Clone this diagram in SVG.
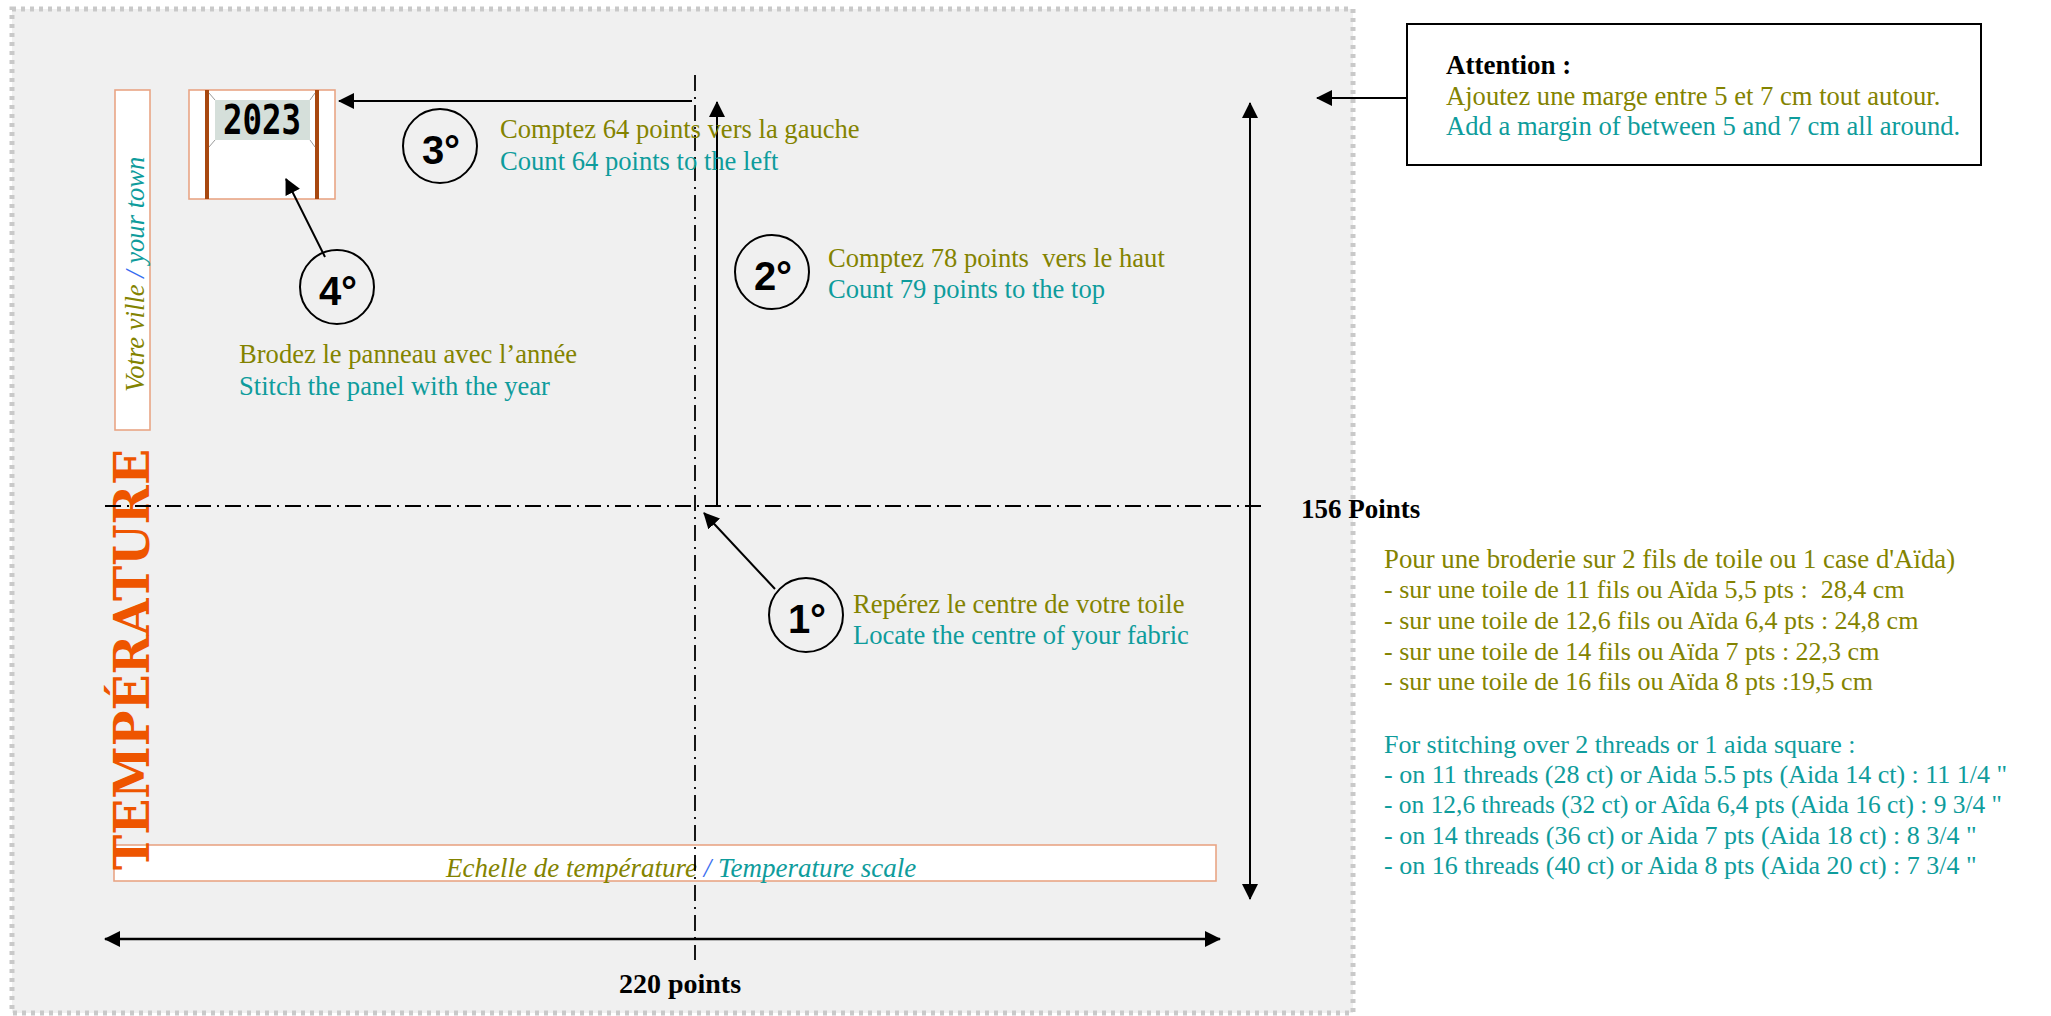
<svg xmlns="http://www.w3.org/2000/svg" width="2051" height="1016" viewBox="0 0 2051 1016">
<style>
text{font-family:"Liberation Serif","Times New Roman",serif;font-size:26.6px;white-space:pre}
.fr{fill:#838300}
.en{fill:#0E9C9C}
.sl{fill:#3A6EF0}
.b{font-weight:bold;fill:#000}
.s{font-size:26px}
.num{font-family:"Liberation Sans",Arial,sans-serif;font-weight:bold;font-size:40px;fill:#000;text-anchor:middle}
.circ{fill:none;stroke:#000;stroke-width:2}
.box{fill:#fff;stroke:#E9A585;stroke-width:1.6}
.dash{stroke:#000;stroke-width:1.8;stroke-dasharray:16 6 2 6;fill:none}
.arr{stroke:#000;stroke-width:2;fill:none;marker-end:url(#ah)}
.arr2{stroke:#000;stroke-width:2;fill:none;marker-start:url(#ah);marker-end:url(#ah)}
.big{font-family:"DejaVu Serif","Liberation Serif",serif;font-weight:bold;font-size:48px;fill:#EE5500}
</style>
<defs>
<marker id="ah" viewBox="0 0 16 16" refX="15" refY="8" markerWidth="16" markerHeight="16" markerUnits="userSpaceOnUse" orient="auto-start-reverse">
<path d="M0,0 L16,8 L0,16 z" fill="#000"/>
</marker>
</defs>
<rect width="2051" height="1016" fill="#fff"/>
<rect id="fabric" x="12" y="9" width="1341" height="1004" fill="#F0F0F0" stroke="#C9C9C9" stroke-width="5" stroke-dasharray="4 5"/>

<g id="town">
<rect class="box" x="115" y="90" width="35" height="340"/>
<text transform="translate(144,392) rotate(-90)" font-style="italic"><tspan class="fr">Votre ville </tspan><tspan class="sl">/</tspan><tspan class="en"> your town</tspan></text>
</g>

<g id="scale">
<rect class="box" x="114" y="845" width="1102" height="36"/>
<text x="446" y="877" font-style="italic" style="font-size:27px"><tspan class="fr">Echelle de température </tspan><tspan class="sl">/</tspan><tspan class="en"> Temperature scale</tspan></text>
</g>

<g id="temperature-title">
<text class="big" transform="translate(149,870) rotate(-90)" textLength="421" lengthAdjust="spacingAndGlyphs">TEMPÉRATURE</text>
</g>

<g id="panel">
<rect class="box" x="189" y="90" width="146" height="109"/>
<rect x="205" y="90" width="4" height="109" fill="#A8480F"/>
<rect x="315" y="90" width="4" height="109" fill="#A8480F"/>
<g stroke="#9A9A9A" stroke-width="1">
<line x1="209" y1="93" x2="215" y2="100"/>
<line x1="315" y1="93" x2="310" y2="100"/>
<line x1="209" y1="147" x2="215" y2="140"/>
<line x1="315" y1="147" x2="310" y2="140"/>
</g>
<rect x="215" y="100" width="95" height="40" fill="#D5DFDA"/>
<text x="223" y="134" style="font-family:'DejaVu Sans Mono',monospace;font-weight:bold;font-size:40px;fill:#000" textLength="78" lengthAdjust="spacingAndGlyphs">2023</text>
</g>

<g id="connectors">
<line class="dash" x1="695" y1="75" x2="695" y2="960"/>
<line class="dash" x1="105" y1="506" x2="1262" y2="506"/>
<line class="arr" x1="717" y1="506" x2="717" y2="102"/>
<line class="arr" x1="692" y1="101" x2="339" y2="101"/>
<line class="arr" x1="325" y1="257" x2="286" y2="179"/>
<line class="arr" x1="775" y1="589" x2="704" y2="513"/>
<line class="arr2" x1="1250" y1="103" x2="1250" y2="899"/>
<line class="arr2" x1="105" y1="939" x2="1220" y2="939" style="stroke-width:2.6"/>
<line class="arr" x1="1408" y1="98" x2="1317" y2="98"/>
</g>

<g id="step1">
<circle class="circ" cx="806" cy="615" r="37"/>
<text class="num" x="807" y="633">1°</text>
<text x="853" y="613" class="fr">Repérez le centre de votre toile</text>
<text x="853" y="644" class="en">Locate the centre of your fabric</text>
</g>

<g id="step2">
<circle class="circ" cx="772" cy="272" r="37"/>
<text class="num" x="773" y="290">2°</text>
<text x="828" y="267" class="fr">Comptez 78 points  vers le haut</text>
<text x="828" y="298" class="en">Count 79 points to the top</text>
</g>

<g id="step3">
<circle class="circ" cx="440" cy="146" r="37"/>
<text class="num" x="441" y="164">3°</text>
<text x="500" y="138" class="fr">Comptez 64 points vers la gauche</text>
<text x="500" y="170" class="en">Count 64 points to the left</text>
</g>

<g id="step4">
<circle class="circ" cx="337" cy="287" r="37"/>
<text class="num" x="338" y="305">4°</text>
<text x="239" y="363" class="fr">Brodez le panneau avec l’année</text>
<text x="239" y="395" class="en">Stitch the panel with the year</text>
</g>

<g id="dimensions">
<text x="1301" y="518" class="b" style="font-size:27px">156 Points</text>
<text x="680" y="993" class="b" style="font-size:28px;text-anchor:middle">220 points</text>
</g>

<g id="attention">
<rect x="1407" y="24" width="574" height="141" fill="#fff" stroke="#000" stroke-width="2"/>
<text x="1446" y="74" class="b" style="font-size:27px">Attention :</text>
<text x="1446" y="105" class="fr">Ajoutez une marge entre 5 et 7 cm tout autour.</text>
<text x="1446" y="135" class="en">Add a margin of between 5 and 7 cm all around.</text>
</g>

<g id="sizes">
<text x="1384" y="568" class="fr" style="font-size:26.8px">Pour une broderie sur 2 fils de toile ou 1 case d'Aïda)</text>
<text x="1384" y="598" class="fr s">- sur une toile de 11 fils ou Aïda 5,5 pts :  28,4 cm</text>
<text x="1384" y="629" class="fr s">- sur une toile de 12,6 fils ou Aïda 6,4 pts : 24,8 cm</text>
<text x="1384" y="660" class="fr s">- sur une toile de 14 fils ou Aïda 7 pts : 22,3 cm</text>
<text x="1384" y="690" class="fr s">- sur une toile de 16 fils ou Aïda 8 pts :19,5 cm</text>
<text x="1384" y="753" class="en s">For stitching over 2 threads or 1 aida square :</text>
<text x="1384" y="783" class="en s">- on 11 threads (28 ct) or Aida 5.5 pts (Aida 14 ct) : 11 1/4 "</text>
<text x="1384" y="813" class="en s" textLength="618" lengthAdjust="spacingAndGlyphs">- on 12,6 threads (32 ct) or Aîda 6,4 pts (Aida 16 ct) : 9 3/4 "</text>
<text x="1384" y="844" class="en s">- on 14 threads (36 ct) or Aida 7 pts (Aida 18 ct) : 8 3/4 "</text>
<text x="1384" y="874" class="en s">- on 16 threads (40 ct) or Aida 8 pts (Aida 20 ct) : 7 3/4 "</text>
</g>
</svg>
